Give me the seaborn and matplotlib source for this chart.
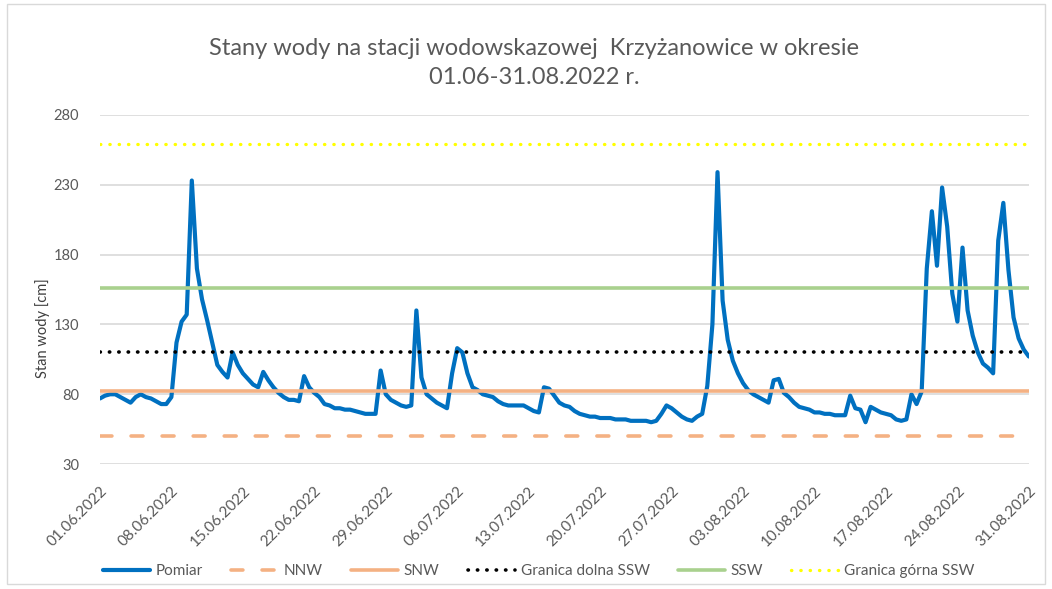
import pandas as pd
import seaborn as sns
import matplotlib.pyplot as plt
from matplotlib.patches import Rectangle

# Pomiar - odczyty co 12 h od 01.06.2022 00:00 do 31.08.2022 00:00
pomiar = [
    77, 79, 80, 80, 78, 76, 74, 78, 80, 78, 77, 75, 73, 73, 78, 117,
    132, 137, 233, 170, 148, 133, 117, 101, 96, 92, 110, 101, 95, 91, 87, 85,
    96, 90, 85, 81, 78, 76, 76, 75, 93, 85, 81, 78, 73, 72, 70, 70,
    69, 69, 68, 67, 66, 66, 66, 97, 80, 76, 74, 72, 71, 72, 140, 92,
    80, 77, 74, 72, 70, 95, 113, 110, 95, 85, 83, 80, 79, 78, 75, 73,
    72, 72, 72, 72, 70, 68, 67, 85, 84, 79, 74, 72, 71, 68, 66, 65,
    64, 64, 63, 63, 63, 62, 62, 62, 61, 61, 61, 61, 60, 61, 66, 72,
    70, 67, 64, 62, 61, 64, 66, 86, 130, 239, 147, 119, 104, 95, 88, 83,
    80, 78, 76, 74, 90, 91, 81, 78, 74, 71, 70, 69, 67, 67, 66, 66,
    65, 65, 65, 79, 70, 69, 60, 71, 69, 67, 66, 65, 62, 61, 62, 80,
    73, 82, 170, 211, 172, 228, 200, 152, 132, 185, 140, 122, 110, 102, 99, 95,
    190, 217, 169, 135, 120, 112, 107,
]

# wartosci charakterystyczne [cm]
nnw = 50
snw = 82
granica_dolna_ssw = 110
ssw = 156
granica_gorna_ssw = 259

daty = pd.date_range("2022-06-01", periods=len(pomiar), freq="12h")
df = pd.DataFrame({"data": daty, "Pomiar": pomiar})

sns.set_style("white")
plt.rcParams["font.family"] = ["Lato", "DejaVu Sans"]
szary = "#595959"

fig = plt.figure(figsize=(10.52, 5.89), dpi=100)
ax = fig.add_axes([0.095, 0.212, 0.883, 0.593])

sns.lineplot(data=df, x="data", y="Pomiar", ax=ax, color="#0070c0", linewidth=3,
             label="Pomiar", solid_joinstyle="round")
ax.axhline(nnw, color="#f4b183", linewidth=2.6, linestyle=(0, (3.3, 5.3)),
           dash_capstyle="round", label="NNW")
ax.axhline(snw, color="#f4b183", linewidth=2.6, label="SNW")
ax.axhline(granica_dolna_ssw, color="black", linewidth=2.6, linestyle=(0, (0.1, 2.5)),
           dash_capstyle="round", label="Granica dolna SSW")
ax.axhline(ssw, color="#a9d18e", linewidth=2.6, label="SSW")
ax.axhline(granica_gorna_ssw, color="#ffff00", linewidth=2.4, linestyle=(0, (0.1, 2.7)),
           dash_capstyle="round", label="Granica górna SSW")

ax.set_ylim(30, 280)
ax.set_yticks(range(30, 281, 50))
ax.set_xlim(pd.Timestamp("2022-06-01"), pd.Timestamp("2022-08-31"))
tyg = pd.date_range("2022-06-01", "2022-08-31", freq="7D")
ax.set_xticks(tyg)
ax.set_xticklabels([d.strftime("%d.%m.%Y") for d in tyg], rotation=45, ha="right",
                   rotation_mode="anchor", fontsize=11, color=szary)
ax.tick_params(axis="y", labelsize=10.5, labelcolor=szary, length=0, pad=15)
ax.tick_params(axis="x", length=0, pad=14)
ax.grid(axis="y", color="#d9d9d9", linewidth=1.2)
ax.set_axisbelow(True)
for s in ax.spines.values():
    s.set_visible(False)

ax.set_xlabel("")
ax.set_ylabel("Stan wody [cm]", fontsize=10.5, color="#404040")
ax.yaxis.set_label_coords(-0.054, 0.39)
fig.text(0.508, 0.893, "Stany wody na stacji wodowskazowej  Krzyżanowice w okresie\n01.06-31.08.2022 r.",
         ha="center", va="center", fontsize=17, color=szary, linespacing=1.45)

h, l = ax.get_legend_handles_labels()
ax.get_legend().remove()
fig.legend(h, l, loc="center", bbox_to_anchor=(0.512, 0.03), ncol=6, frameon=False,
           fontsize=11, handlelength=3.1, columnspacing=1.85, handletextpad=0.35,
           labelcolor=szary)

fig.patches.append(Rectangle((0.007, 0.008), 0.986, 0.985, transform=fig.transFigure,
                             fill=False, edgecolor="#d9d9d9", linewidth=1))

fig.savefig("out.png", dpi=100)
